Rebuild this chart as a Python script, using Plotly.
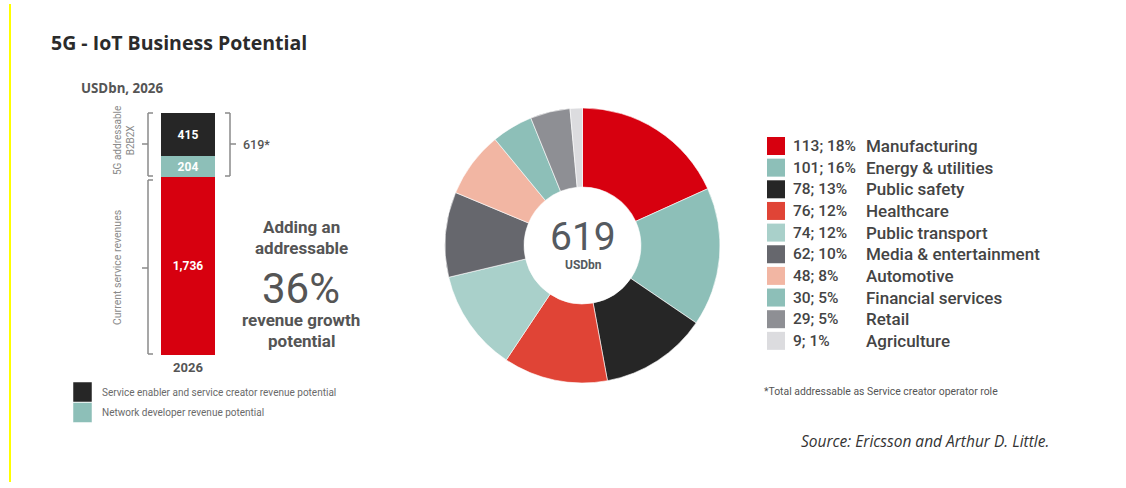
import plotly.graph_objects as go

W, H = 1126, 488

# ---------------- data ----------------
bar_year = ["2026"]
bar_series = ["Current service revenues", "Network developer revenue potential",
              "Service enabler and service creator revenue potential"]
bar_values = [1736, 204, 415]
bar_labels = ["1,736", "204", "415"]
bar_colors = ["#D7000F", "#8DBFB8", "#262626"]

sectors = ["Manufacturing", "Energy & utilities", "Public safety", "Healthcare",
           "Public transport", "Media & entertainment", "Automotive",
           "Financial services", "Retail", "Agriculture"]
sector_values = [113, 101, 78, 76, 74, 62, 48, 30, 29, 9]
sector_pcts = [18, 16, 13, 12, 12, 10, 8, 5, 5, 1]
sector_colors = ["#D7000F", "#8DBFB8", "#262626", "#E04436", "#A9D0CA",
                 "#66676D", "#F2B6A3", "#8DBFB8", "#8E8F94", "#DCDCDF"]

total_addressable = 619
growth_pct = 36


def X(px):
    return px / W


def Y(py):
    return 1 - py / H


fig = go.Figure()

# stacked bar
for name, v, lab, c in zip(bar_series, bar_values, bar_labels, bar_colors):
    fig.add_trace(go.Bar(
        x=bar_year, y=[v], name=name, marker=dict(color=c, line=dict(width=0)),
        text=[lab], textposition="inside", insidetextanchor="middle",
        textfont=dict(color="white", size=12, family="Roboto", weight=700),
        width=1, showlegend=False, hoverinfo="skip", xaxis="x", yaxis="y"))

# donut
fig.add_trace(go.Pie(
    labels=sectors, values=sector_values, sort=False, direction="clockwise",
    rotation=0, hole=0.425, marker=dict(colors=sector_colors, line=dict(color="white", width=0.6)),
    textinfo="none", showlegend=False, hoverinfo="label+value",
    domain=dict(x=[X(582.5 - 137.5), X(582.5 + 137.5)], y=[Y(245.5 + 137.5), Y(245.5 - 137.5)])))

shapes = []
anns = []
GREY = "#8a8a8a"

# yellow side rule
shapes.append(dict(type="line", xref="paper", yref="paper", x0=X(10), x1=X(10), y0=Y(4), y1=Y(482),
                   line=dict(color="#FFFF00", width=2)))


def seg(x0, y0, x1, y1, color=GREY, w=1.5):
    shapes.append(dict(type="line", xref="paper", yref="paper", x0=X(x0), x1=X(x1), y0=Y(y0), y1=Y(y1),
                       line=dict(color=color, width=w)))


# left upper bracket
seg(148, 113, 148, 176); seg(148, 113, 153, 113); seg(148, 176, 153, 176); seg(142, 144, 148, 144)
# left lower bracket
seg(148, 180, 148, 354); seg(148, 180, 153, 180); seg(148, 354, 153, 354); seg(142, 268, 148, 268)
# right bracket
seg(230, 113, 230, 176); seg(225, 113, 230, 113); seg(225, 176, 230, 176); seg(230, 144, 236, 144)


def ann(text, x, y, size, color="#4a4a4a", xanchor="left", weight=400, family="Roboto", angle=0,
        italic=False, align="left"):
    anns.append(dict(text=text, x=X(x), y=Y(y), xref="paper", yref="paper", showarrow=False,
                     xanchor=xanchor, yanchor="middle", textangle=angle, align=align,
                     font=dict(size=size, color=color, family=family, weight=weight,
                               style="italic" if italic else "normal")))


ann("5G - IoT Business Potential", 49, 42, 19.5, "#2b2b2b", weight=700, family="Open Sans")
ann("USDbn, 2026", 79, 88, 13.3, "#555555", weight=700, family="Open Sans")
ann(f"{total_addressable}*", 241, 144, 12.5, "#555555", weight=500)
ann("5G addressable<br>B2B2X", 124, 141, 10, "#8a8a8a", xanchor="center", angle=-90, align="center")
ann("Current service revenues", 117, 268, 10.5, "#8a8a8a", xanchor="center", angle=-90)

ann("Adding an", 301, 227, 17, "#555555", xanchor="center", weight=700)
ann("addressable", 301, 248, 17, "#555555", xanchor="center", weight=700)
ann(f"{growth_pct}%", 301, 288, 42, "#555555", xanchor="center", weight=400)
ann("revenue growth", 301, 320, 17, "#555555", xanchor="center", weight=700)
ann("potential", 301, 341, 17, "#555555", xanchor="center", weight=700)

# left legend (swatches + labels)
for i, (idx) in enumerate([2, 1]):
    y0 = 382 + i * 20.5
    shapes.append(dict(type="rect", xref="paper", yref="paper", x0=X(73), x1=X(92), y0=Y(y0), y1=Y(y0 + 20),
                       fillcolor=bar_colors[idx], line=dict(width=0.5, color="white")))
    ann(bar_series[idx], 100, y0 + 10, 10, "#6a6a6a")

# donut centre
ann(str(total_addressable), 583, 237, 39, "#555a60", xanchor="center", weight=400)
ann("USDbn", 583, 265, 12, "#555a60", xanchor="center", weight=700)

# right legend
for i, (s, v, p, c) in enumerate(zip(sectors, sector_values, sector_pcts, sector_colors)):
    yc = 146 + i * 21.65
    shapes.append(dict(type="rect", xref="paper", yref="paper", x0=X(767), x1=X(785), y0=Y(yc - 9),
                       y1=Y(yc + 9), fillcolor=c, line=dict(width=0)))
    ann(f"{v}; {p}%", 791, yc, 15.5, "#444444", weight=500)
    ann(s, 864, yc, 17, "#444444", weight=500)

ann("*Total addressable as Service creator operator role", 762, 391, 10.4, "#555555")
ann("Source: Ericsson and Arthur D. Little.", 1051, 441, 15.5, "#333333", xanchor="right", italic=True,
    family="Open Sans")

fig.update_layout(
    width=W, height=H, margin=dict(l=0, r=0, t=0, b=0),
    paper_bgcolor="white", plot_bgcolor="white", barmode="stack", bargap=0,
    xaxis=dict(domain=[X(161), X(215)], range=[-0.5, 0.5], type="category", showgrid=False,
               zeroline=False, showline=False, ticks="", fixedrange=True, ticklabelstandoff=3,
               tickfont=dict(size=13, color="#555555", family="Roboto", weight=700)),
    yaxis=dict(domain=[Y(355), Y(113)], range=[0, sum(bar_values)], visible=False, fixedrange=True),
    shapes=shapes, annotations=anns, showlegend=False,
    font=dict(family="Roboto"),
)

fig.write_html("out.html")
